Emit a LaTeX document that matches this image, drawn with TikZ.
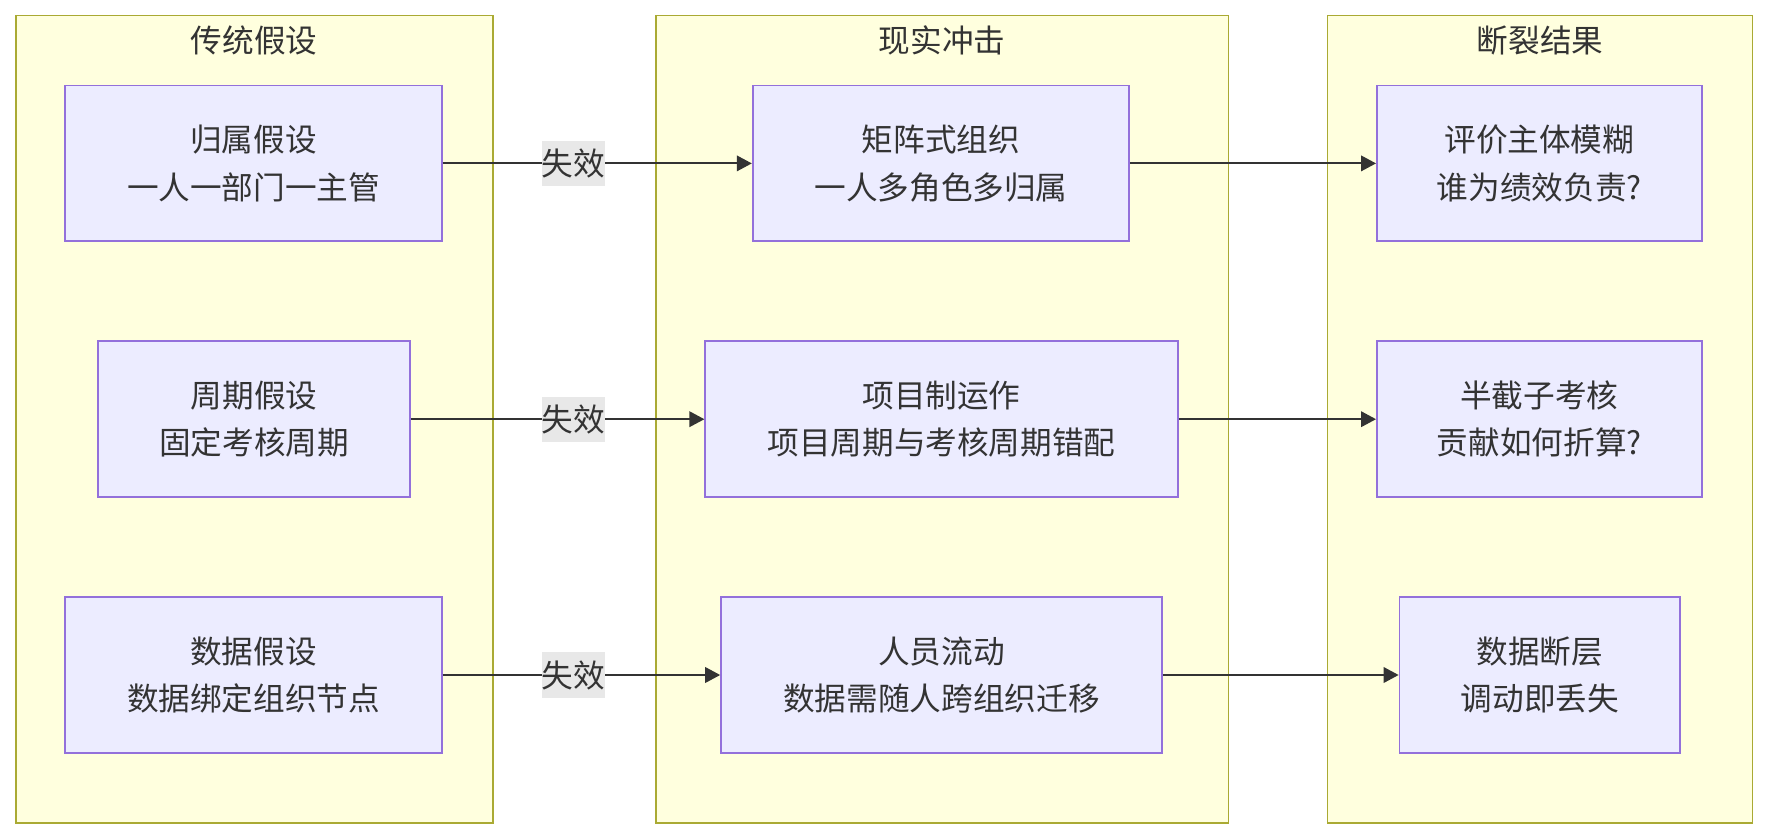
\documentclass[tikz,border=0pt]{standalone}
\usepackage{fontspec}
\newfontfamily\cjk{Noto Sans CJK SC}
\usetikzlibrary{arrows.meta,positioning}
\definecolor{groupfill}{HTML}{FFFFDE}
\definecolor{groupline}{HTML}{AAAA33}
\definecolor{boxfill}{HTML}{ECECFF}
\definecolor{boxline}{HTML}{9370DB}
\definecolor{ink}{HTML}{333333}
\definecolor{lblfill}{HTML}{E8E8E8}

\begin{document}
\begin{tikzpicture}[
  x=0.01cm, y=-0.01cm,
  every node/.style={font=\cjk\fontsize{9pt}{13.5pt}\selectfont, text=ink},
  group/.style={draw=groupline, fill=groupfill, line width=0.5pt, inner sep=0pt, minimum height=8.068cm},
  box/.style={draw=boxline, fill=boxfill, line width=0.5pt, align=center, inner sep=0pt, minimum height=1.556cm},
  lbl/.style={fill=lblfill, inner xsep=0pt, inner ysep=0pt, minimum height=0.45cm},
  arr/.style={-{Triangle[length=0.15cm, width=0.155cm]}, draw=ink, line width=0.57pt},
]
\fill[white] (0,0) rectangle (1767,840);
\useasboundingbox (0,0) rectangle (1767,840);
% three columns
\node[group, minimum width=4.767cm] (old) at (254.2,419.2) {};
\node[group, minimum width=5.724cm] (now) at (942.1,419.2) {};
\node[group, minimum width=4.249cm] (res) at (1540.0,419.2) {};
\node (oldtitle) at (254.2,40.6) {传统假设};
\node (nowtitle) at (942.1,40.6) {现实冲击};
\node (restitle) at (1540.0,40.6) {断裂结果};
% assumptions
\node[box, minimum width=3.763cm] (belong) at (253.6,163.4) {归属假设\\一人一部门一主管};
\node[box, minimum width=3.122cm] (cycle) at (254.1,419.2) {周期假设\\固定考核周期};
\node[box, minimum width=3.763cm] (data) at (253.6,675.0) {数据假设\\数据绑定组织节点};
% reality
\node[box, minimum width=3.764cm] (matrix) at (941.0,163.4) {矩阵式组织\\一人多角色多归属};
\node[box, minimum width=4.722cm] (project) at (941.5,419.2) {项目制运作\\项目周期与考核周期错配};
\node[box, minimum width=4.406cm] (flow) at (941.5,675.0) {人员流动\\数据需随人跨组织迁移};
% results
\node[box, minimum width=3.246cm] (blur) at (1539.3,163.4) {评价主体模糊\\谁为绩效负责?};
\node[box, minimum width=3.246cm] (half) at (1539.3,419.2) {半截子考核\\贡献如何折算?};
\node[box, minimum width=2.806cm] (gap) at (1539.9,675.0) {数据断层\\调动即丢失};
\draw[arr] (belong) -- (matrix);
\draw[arr] (cycle) -- (project);
\draw[arr] (data) -- (flow);
\node[lbl] (fail1) at (573.6,163.4) {失效};
\node[lbl] (fail2) at (573.6,419.2) {失效};
\node[lbl] (fail3) at (573.6,675.0) {失效};
\draw[arr] (matrix) -- (blur);
\draw[arr] (project) -- (half);
\draw[arr] (flow) -- (gap);
\end{tikzpicture}
\end{document}
